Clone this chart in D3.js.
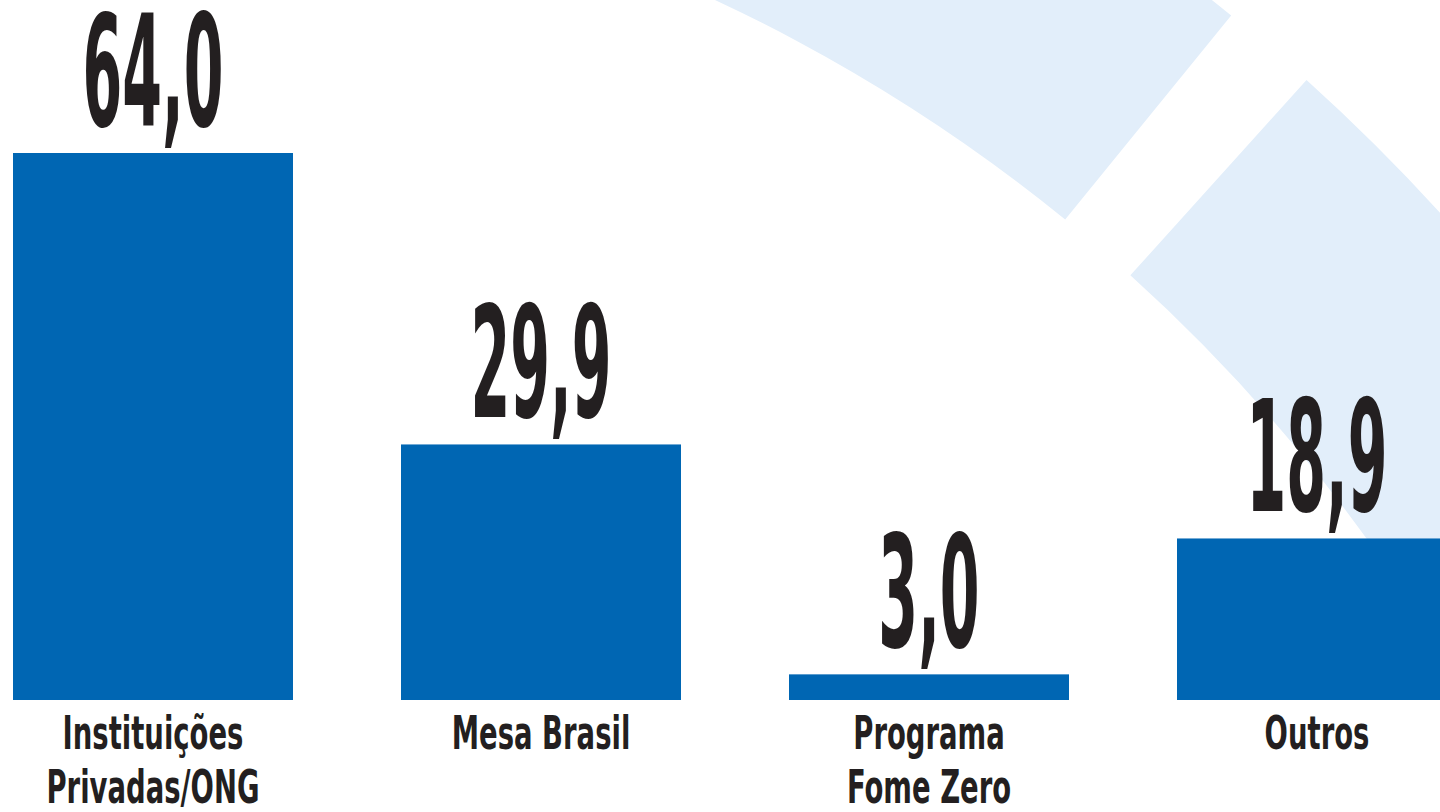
<!DOCTYPE html>
<html>
<head>
<meta charset="utf-8">
<script src="https://cdn.jsdelivr.net/npm/d3@7"></script>
<style>
    html, body { margin: 0; padding: 0; background: #fff; }
    svg { display: block; }
</style>
</head>
<body>
<svg id="chart" width="1440" height="812"></svg>
<script>
// chart data
const categories = ["Instituições\nPrivadas/ONG", "Mesa Brasil", "Programa\nFome Zero", "Outros"];
const values = [64.0, 29.9, 3.0, 18.9];

// background ring pieces (angles in radians, clockwise from 12 o'clock)
const ringStarts = [0.30, 0.734];
const ringEnds = [0.683, 1.30];

const width = 1440, height = 812;
const svg = d3.select("#chart");
const fontStack = "'DejaVu Sans Condensed', 'Liberation Sans Narrow', sans-serif";

const ptBR = d3.formatLocale({ decimal: ",", thousands: ".", grouping: [3], currency: ["R$ ", ""] });
const fmt = ptBR.format(".1f");

const x = d3.scaleBand()
    .domain(categories)
    .range([13, 1457])
    .paddingInner(108 / 388)
    .paddingOuter(0);

const y = d3.scaleLinear()
    .domain([0, d3.max(values)])
    .range([700, 153]);

// light blue ring behind everything
const ring = d3.arc().innerRadius(1683).outerRadius(1946);
svg.append("g")
    .attr("transform", "translate(3,1525)")
    .selectAll("path")
    .data(ringStarts.map((s, i) => ({ startAngle: s, endAngle: ringEnds[i] })))
    .enter().append("path")
    .attr("d", ring)
    .attr("fill", "#e2eefa");

// bars
svg.selectAll("rect.bar")
    .data(values)
    .enter().append("rect")
    .attr("class", "bar")
    .attr("x", (d, i) => x(categories[i]))
    .attr("y", d => y(d))
    .attr("width", x.bandwidth())
    .attr("height", d => y(0) - y(d))
    .attr("fill", "#0066b3");

// big value labels
svg.selectAll("text.value")
    .data(values)
    .enter().append("text")
    .attr("class", "value")
    .attr("transform", (d, i) => `translate(${x(categories[i]) + x.bandwidth() / 2},${y(d) - 27}) scale(0.41,1)`)
    .attr("text-anchor", "middle")
    .attr("font-family", fontStack)
    .attr("font-weight", "bold")
    .attr("font-size", 155)
    .attr("fill", "#231f20")
    .text(d => fmt(d));

// category labels
const labels = svg.selectAll("g.cat")
    .data(categories)
    .enter().append("g")
    .attr("class", "cat")
    .attr("transform", d => `translate(${x(d) + x.bandwidth() / 2},749) scale(0.65,1)`);

labels.selectAll("text")
    .data(d => d.split("\n"))
    .enter().append("text")
    .attr("y", (d, i) => i * 54)
    .attr("text-anchor", "middle")
    .attr("font-family", fontStack)
    .attr("font-weight", "bold")
    .attr("font-size", 47)
    .attr("fill", "#231f20")
    .text(d => d);
</script>
</body>
</html>
